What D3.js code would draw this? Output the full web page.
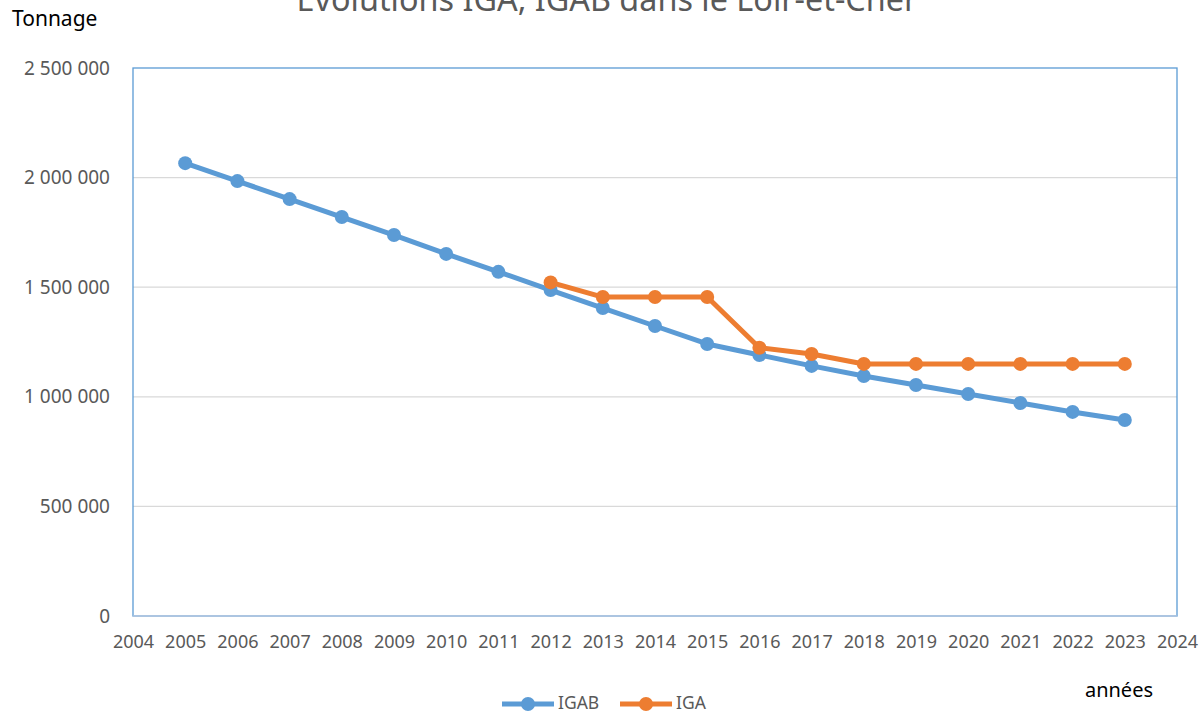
<!DOCTYPE html>
<html>
<head>
<meta charset="utf-8">
<script src="https://cdn.jsdelivr.net/npm/d3@7"></script>
<style>
  body { margin: 0; background: #fff; }
  svg text { font-family: "Noto Sans", "Open Sans", sans-serif; }
</style>
</head>
<body>
<svg id="chart" width="1204" height="712"></svg>
<script>
// data
var years = [2005, 2006, 2007, 2008, 2009, 2010, 2011, 2012, 2013, 2014,
             2015, 2016, 2017, 2018, 2019, 2020, 2021, 2022, 2023];
var igab = [2066000, 1984000, 1902000, 1820000, 1738000, 1652000, 1570000, 1487000, 1405000, 1323000,
            1241000, 1191000, 1141000, 1095000, 1054000, 1013000, 972000, 931000, 894000];
var igaYears = [2012, 2013, 2014, 2015, 2016, 2017, 2018, 2019, 2020, 2021, 2022, 2023];
var iga = [1522000, 1455000, 1455000, 1455000, 1224000, 1195000, 1150000, 1150000, 1150000, 1150000, 1150000, 1150000];
var yTicks = [0, 500000, 1000000, 1500000, 2000000, 2500000];
var xTicks = d3.range(2004, 2025);

var blue = '#5B9BD5', orange = '#ED7D31', grey = '#595959';

var svg = d3.select('#chart');
// plot area (window.top is read-only, so no "top" here)
var plotL = 133, plotR = 1177, plotT = 68, plotB = 616;

var x = d3.scaleLinear().domain([2004, 2024]).range([plotL, plotR]);
var y = d3.scaleLinear().domain([0, 2500000]).range([plotB, plotT]);

// number format with spaces as thousands separator
var fmt = function(d) { return d3.format(',')(d).replace(/,/g, ' '); };

// gridlines
svg.append('g').selectAll('line')
  .data(yTicks.filter(function(d) { return d > 0 && d < 2500000; }))
  .enter().append('line')
  .attr('x1', plotL).attr('x2', plotR)
  .attr('y1', function(d) { return y(d); }).attr('y2', function(d) { return y(d); })
  .attr('stroke', '#D9D9D9').attr('stroke-width', 1.3);

// plot border
svg.append('rect')
  .attr('x', plotL).attr('y', plotT)
  .attr('width', plotR - plotL).attr('height', plotB - plotT)
  .attr('fill', 'none').attr('stroke', blue).attr('stroke-width', 1.3);
svg.append('line')
  .attr('x1', plotL).attr('x2', plotR).attr('y1', plotB).attr('y2', plotB)
  .attr('stroke', '#B4C7E0').attr('stroke-width', 1.5);

// y axis labels
var yAxis = svg.append('g')
  .attr('transform', 'translate(' + 110 + ',0)')
  .call(d3.axisLeft(y).tickValues(yTicks).tickFormat(fmt).tickSize(0).tickPadding(0));
yAxis.select('.domain').remove();
yAxis.selectAll('text').attr('fill', grey).style('font-size', '19px')
  .style('font-family', '"Noto Sans", sans-serif');

// x axis labels
var xAxis = svg.append('g')
  .attr('transform', 'translate(0,' + 635 + ')')
  .call(d3.axisBottom(x).tickValues(xTicks).tickFormat(d3.format('d')).tickSize(0).tickPadding(0));
xAxis.select('.domain').remove();
xAxis.selectAll('text').attr('fill', grey).style('font-size', '18px')
  .style('font-family', '"Noto Sans", sans-serif');

// series
function drawSeries(xs, vals, color) {
  var pts = xs.map(function(d, i) { return [d, vals[i]]; });
  var line = d3.line().x(function(d) { return x(d[0]); }).y(function(d) { return y(d[1]); });
  svg.append('path').datum(pts)
    .attr('d', line).attr('fill', 'none')
    .attr('stroke', color).attr('stroke-width', 5).attr('stroke-linejoin', 'round');
  svg.append('g').selectAll('circle').data(pts).enter().append('circle')
    .attr('cx', function(d) { return x(d[0]); })
    .attr('cy', function(d) { return y(d[1]); })
    .attr('r', 7).attr('fill', color);
}
drawSeries(years, igab, blue);
drawSeries(igaYears, iga, orange);

// title, clipped at the top like the reference
var title = svg.append('text')
  .attr('x', 607).attr('y', 11).attr('text-anchor', 'middle')
  .attr('fill', grey).style('font-size', '26px')
  .text('Evolutions IGA, IGAB dans le Loir-et-Cher');
var tw = title.node().getComputedTextLength();
title.style('font-size', (26 * 621 / tw) + 'px');

svg.append('text').attr('x', 12).attr('y', 26)
  .attr('fill', '#000').style('font-size', '21px').text('Tonnage');
svg.append('text').attr('x', 1153).attr('y', 697).attr('text-anchor', 'end')
  .attr('fill', '#000').style('font-size', '20px').text('années');

// legend
var legend = [
  { name: 'IGAB', color: blue, x0: 502 },
  { name: 'IGA', color: orange, x0: 620 }
];
var lg = svg.append('g').selectAll('g').data(legend).enter().append('g');
lg.append('line')
  .attr('x1', function(d) { return d.x0; }).attr('x2', function(d) { return d.x0 + 52; })
  .attr('y1', 704).attr('y2', 704)
  .attr('stroke', function(d) { return d.color; }).attr('stroke-width', 5);
lg.append('circle')
  .attr('cx', function(d) { return d.x0 + 26; }).attr('cy', 704).attr('r', 7)
  .attr('fill', function(d) { return d.color; });
lg.append('text')
  .attr('x', function(d) { return d.x0 + 56; }).attr('y', 709)
  .attr('fill', grey).style('font-size', '17.5px')
  .text(function(d) { return d.name; });
</script>
</body>
</html>
